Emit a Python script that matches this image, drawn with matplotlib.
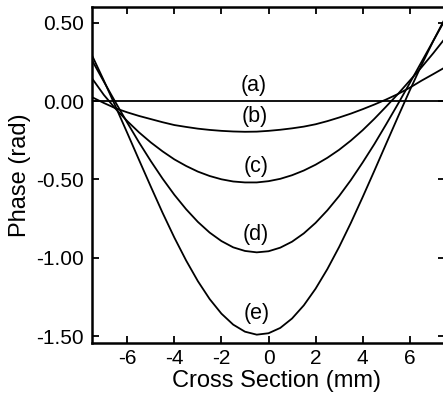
import matplotlib
matplotlib.use("Agg")
import matplotlib.pyplot as plt

plt.rcParams['font.family'] = ['Liberation Sans', 'DejaVu Sans']
plt.rcParams['axes.unicode_minus'] = False

x_mm = [-7.5, -7.0, -6.5, -6.0, -5.5, -5.0, -4.5, -4.0, -3.5, -3.0, -2.5, -2.0,
        -1.5, -1.0, -0.5, 0.0, 0.5, 1.0, 1.5, 2.0, 2.5, 3.0, 3.5, 4.0, 4.5,
        5.0, 5.5, 6.0, 6.5, 7.0, 7.5]

phase_a = [0.0] * 31
phase_b = [0.025, -0.012, -0.046, -0.072, -0.095, -0.115, -0.135, -0.153, -0.165,
           -0.176, -0.184, -0.190, -0.194, -0.196, -0.195, -0.190, -0.183, -0.174,
           -0.163, -0.148, -0.128, -0.105, -0.080, -0.052, -0.022, 0.010, 0.045,
           0.085, 0.130, 0.172, 0.215]
phase_c = [0.145, 0.040, -0.049, -0.128, -0.200, -0.264, -0.321, -0.372, -0.414,
           -0.450, -0.478, -0.499, -0.513, -0.519, -0.519, -0.511, -0.496, -0.473,
           -0.443, -0.406, -0.362, -0.311, -0.252, -0.186, -0.113, -0.035, 0.045,
           0.130, 0.215, 0.305, 0.400]
phase_d = [0.260, 0.125, -0.008, -0.138, -0.264, -0.383, -0.495, -0.598, -0.690,
           -0.771, -0.839, -0.893, -0.933, -0.956, -0.965, -0.958, -0.935, -0.897,
           -0.844, -0.777, -0.697, -0.606, -0.504, -0.392, -0.274, -0.148, -0.019,
           0.114, 0.249, 0.384, 0.518]
phase_e = [0.292, 0.132, -0.034, -0.204, -0.376, -0.546, -0.713, -0.871, -1.017,
           -1.149, -1.263, -1.356, -1.426, -1.471, -1.490, -1.481, -1.447, -1.387,
           -1.303, -1.197, -1.072, -0.931, -0.777, -0.613, -0.444, -0.272, -0.101,
           0.067, 0.229, 0.383, 0.528]

series = [phase_a, phase_b, phase_c, phase_d, phase_e]
labels = ['(a)', '(b)', '(c)', '(d)', '(e)']
label_x = [-0.64, -0.57, -0.53, -0.53, -0.51]
label_y = [0.10, -0.10, -0.415, -0.851, -1.355]

x_ticks = [-6, -4, -2, 0, 2, 4, 6]
y_ticks = [0.5, 0.0, -0.5, -1.0, -1.5]
y_tick_labels = ['0.50', '0.00', '-0.50', '-1.00', '-1.50']

fig = plt.figure(figsize=(4.43, 4.01), dpi=100)
ax = fig.add_axes([92 / 443, (401 - 342.5) / 401, 353 / 443, 335.5 / 401])

for s in series:
    ax.plot(x_mm, s, color='black', lw=1.3)

for t, lx, ly in zip(labels, label_x, label_y):
    ax.text(lx, ly, t, ha='center', va='center', fontsize=15.5)

ax.set_xlim(-7.5, 7.5)
ax.set_ylim(-1.54, 0.60)
ax.set_xticks(x_ticks)
ax.set_xticklabels([str(v) for v in x_ticks])
ax.set_yticks(y_ticks)
ax.set_yticklabels(y_tick_labels)
ax.tick_params(direction='in', top=True, right=True, length=5, width=1.3,
               labelsize=15, pad=5)
ax.tick_params(axis='y', pad=6)
for sp in ax.spines.values():
    sp.set_linewidth(1.8)
ax.spines['right'].set_visible(False)

ax.set_xlabel('Cross Section (mm)', fontsize=17)
ax.set_ylabel('Phase (rad)', fontsize=17)
ax.xaxis.set_label_coords(0.524, -0.082)
ax.yaxis.set_label_coords(-0.173, 0.5)

fig.savefig('out.png', dpi=100)
